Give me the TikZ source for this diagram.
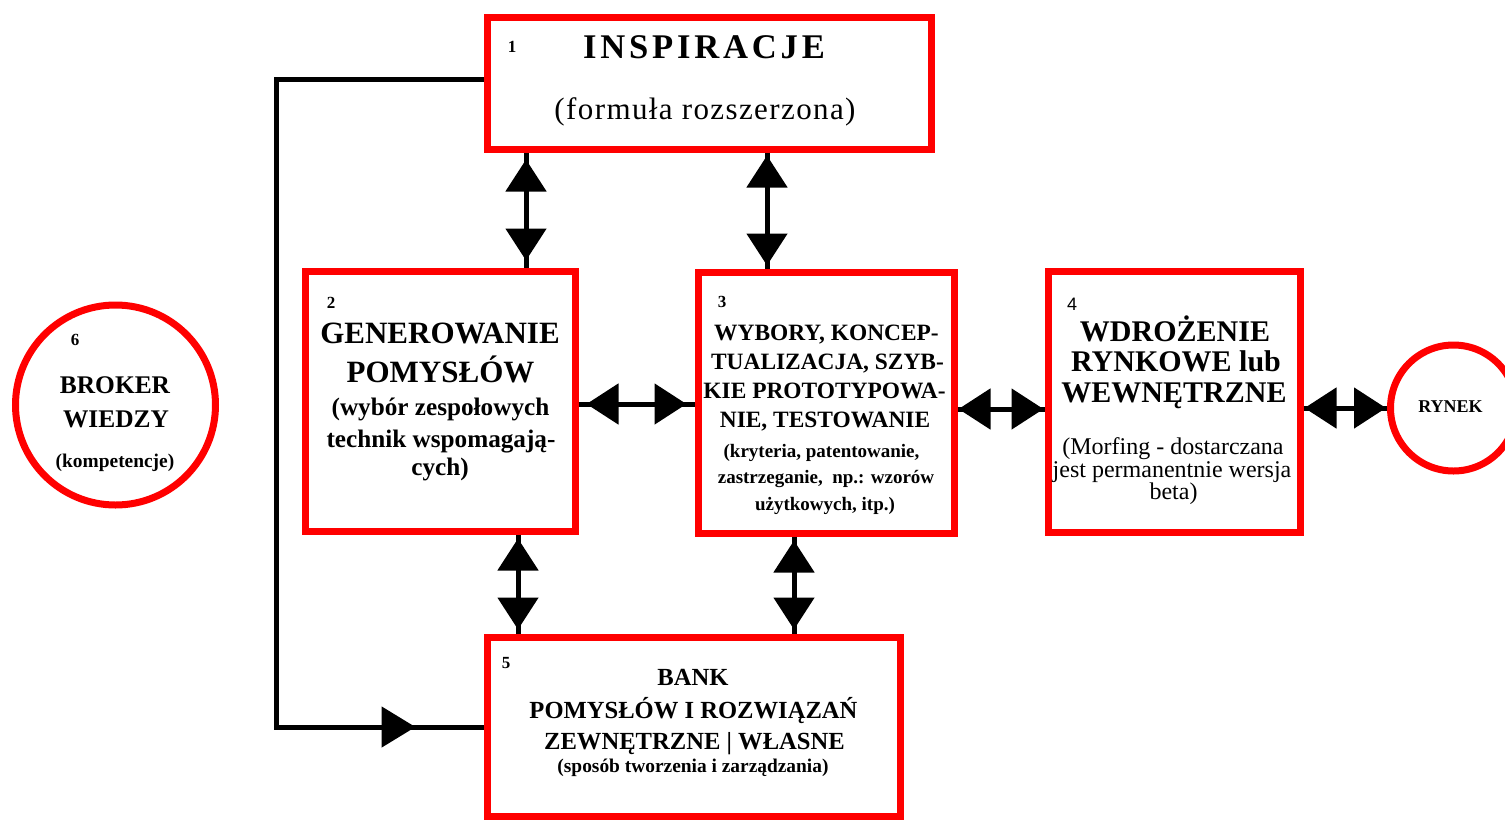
\documentclass[tikz,border=0pt]{standalone}
\usepackage{fontspec}
\setmainfont{Liberation Serif}
\newfontfamily\numsans{Liberation Sans}
\newfontfamily\spacedA{Liberation Serif}[LetterSpace=11]
\newfontfamily\spacedB{Liberation Serif}[LetterSpace=4.5]
\usetikzlibrary{arrows.meta,decorations.markings}
\newcommand{\fsz}[1]{\fontsize{#1}{#1}\selectfont}
\begin{document}
\begin{tikzpicture}[x=0.5pt,y=-0.5pt,
  box/.style={draw=red, line width=3.5pt, rectangle, inner sep=0pt, fill=white},
  circ/.style={draw=red, line width=3.5pt, circle, inner sep=0pt, fill=white},
  t/.style={anchor=base, inner sep=0pt, font=\bfseries},
  dbl/.style={line width=2.5pt, postaction={decorate}, decoration={markings,
    mark=at position #1 with {\arrowreversed{Triangle[length=16pt,width=20pt]}},
    mark=at position -#1 with {\arrow{Triangle[length=16pt,width=20pt]}}}},
  dbl/.default=1pt,
  fbline/.style={line width=2.5pt, postaction={decorate}, decoration={markings,
    mark=at position -34pt with {\arrow{Triangle[length=17pt,width=20pt]}}}}
]
\useasboundingbox (0,0) rectangle (1505,820);
\fill[white] (0,0) rectangle (1505,820);
\clip (0,0) rectangle (1505,820);

\coordinate (fa) at (276,79);
\coordinate (fb) at (276,727);

% box 1
\node[box, minimum width=222pt, minimum height=66pt] (b1) at (709,83) {};
\node[t, font=\bfseries\fsz{8.5}] (n1) at (512,52) {1};
\node[t, font=\spacedA\bfseries\fsz{17.3}] (t1a) at (704,58) {INSPIRACJE};
\node[t, font=\spacedB\fsz{15.5}] (t1b) at (705,119) {(formuła rozszerzona)};

% box 2
\node[box, minimum width=135pt, minimum height=130pt] (b2) at (440,401) {};
\node[t, font=\bfseries\fsz{8.5}] (n2) at (331,308) {2};
\node[t, font=\bfseries\fsz{15.5}] (t2a) at (440,343) {GENEROWANIE};
\node[t, font=\bfseries\fsz{15.5}] (t2b) at (440.5,382) {POMYSŁÓW};
\node[t, font=\bfseries\fsz{12.6}] (t2c) at (440.5,415) {(wybór zespołowych};
\node[t, font=\bfseries\fsz{12.6}] (t2d) at (441,447) {technik wspomagają-};
\node[t, font=\bfseries\fsz{12.6}] (t2e) at (440,475) {cych)};

% box 3
\node[box, minimum width=128pt, minimum height=130.5pt] (b3) at (826,402.5) {};
\node[t, font=\bfseries\fsz{8.5}] (n3) at (722,307) {3};
\node[t, font=\bfseries\fsz{11.7}] (t3a) at (826.5,340) {WYBORY, KONCEP-};
\node[t, font=\bfseries\fsz{11.7}] (t3b) at (827.5,369) {TUALIZACJA, SZYB-};
\node[t, font=\bfseries\fsz{11.7}] (t3c) at (824.5,398) {KIE PROTOTYPOWA-};
\node[t, font=\bfseries\fsz{11.7}] (t3d) at (825,427) {NIE, TESTOWANIE};
\node[t, font=\bfseries\fsz{9.5}] (t3e) at (821.5,457) {(kryteria, patentowanie,};
\node[t, font=\bfseries\fsz{9.5}] (t3f) at (826,483) {zastrzeganie,\ \ np.: wzorów};
\node[t, font=\bfseries\fsz{9.5}] (t3g) at (825,510) {użytkowych, itp.)};

% box 4
\node[box, minimum width=126pt, minimum height=130.5pt] (b4) at (1174,401.5) {};
\node[t, font=\numsans\fsz{9}] (n4) at (1072,310) {4};
\node[t, font=\bfseries\fsz{15}] (t4a) at (1175,341) {WDROŻENIE};
\node[t, font=\bfseries\fsz{15}] (t4b) at (1176,371) {RYNKOWE lub};
\node[t, font=\bfseries\fsz{15}] (t4c) at (1174,402) {WEWNĘTRZNE};
\node[t, font=\mdseries\fsz{12}] (t4d) at (1173,454) {(Morfing - dostarczana};
\node[t, font=\mdseries\fsz{12}] (t4e) at (1172,477) {jest permanentnie wersja};
\node[t, font=\mdseries\fsz{12}] (t4f) at (1173.5,499) {beta)};

% box 5
\node[box, minimum width=206.5pt, minimum height=89.5pt] (b5) at (693.5,726.5) {};
\node[t, font=\bfseries\fsz{8.5}] (n5) at (506,668) {5};
\node[t, font=\bfseries\fsz{12.3}] (t5a) at (693,685) {BANK};
\node[t, font=\bfseries\fsz{12.3}] (t5b) at (693.5,718) {POMYSŁÓW I ROZWIĄZAŃ};
\node[t, font=\bfseries\fsz{12.3}] (t5c) at (694.5,749) {ZEWNĘTRZNE | WŁASNE};
\node[t, font=\bfseries\fsz{9.7}] (t5d) at (693,772) {(sposób tworzenia i zarządzania)};

% circle 6
\node[circ, minimum size=100pt] (c6) at (115.5,405) {};
\node[t, font=\bfseries\fsz{8.5}] (n6) at (75,345) {6};
\node[t, font=\bfseries\fsz{12.7}] (t6a) at (115,393) {BROKER};
\node[t, font=\bfseries\fsz{12.7}] (t6b) at (116,427) {WIEDZY};
\node[t, font=\bfseries\fsz{9.7}] (t6c) at (115,467) {(kompetencje)};

% rynek
\node[circ, minimum size=63pt] (r) at (1453.5,408) {};
\node[t, font=\bfseries\fsz{9}] (tr) at (1450.5,412) {RYNEK};

% connectors
\draw[fbline] ([yshift=2pt]b1.west) -- (fa) -- (fb) -- (fb -| b5.west);
\draw[dbl=3.5pt] ([xshift=-91.5pt]b1.south) -- ([xshift=43pt]b2.north);
\draw[dbl=1.5pt] ([xshift=29pt]b1.south) -- ([xshift=-29.5pt]b3.north);
\draw[dbl=2pt] ([xshift=39pt]b2.south) -- ([xshift=-87.75pt]b5.north);
\draw[dbl=2pt] ([xshift=-16pt]b3.south) -- ([xshift=50.25pt]b5.north);
\draw[dbl=4pt] ([yshift=-1.5pt]b2.east) -- ([yshift=-0.75pt]b3.west);
\draw[dbl=0.5pt] ([yshift=-3.25pt]b3.east) -- ([yshift=-3.75pt]b4.west);
\draw[dbl=0.5pt] ([yshift=-3.25pt]b4.east) -- (r.west);
\end{tikzpicture}
\end{document}
